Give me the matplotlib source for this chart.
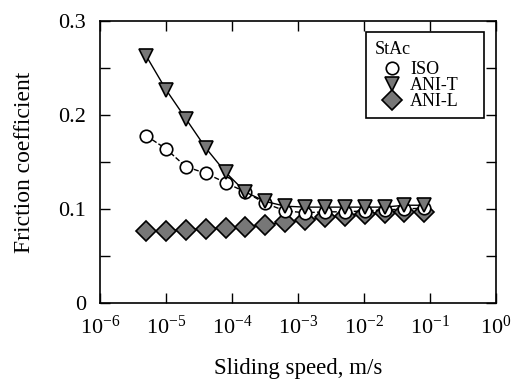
import math
import matplotlib
matplotlib.use("Agg")
import matplotlib.pyplot as plt
from matplotlib.patches import Rectangle
from matplotlib.ticker import FixedLocator, FuncFormatter, NullLocator

plt.rcParams['font.family'] = ['Liberation Serif', 'DejaVu Serif']
plt.rcParams['mathtext.fontset'] = 'custom'
plt.rcParams['mathtext.rm'] = 'Liberation Serif'
plt.rcParams['mathtext.it'] = 'Liberation Serif'

speed = [5e-6, 1e-5, 2e-5, 4e-5, 8e-5, 1.6e-4, 3.2e-4, 6.4e-4, 1.28e-3,
         2.56e-3, 5.12e-3, 1.024e-2, 2.048e-2, 4.096e-2, 8.192e-2]
iso = [0.178, 0.164, 0.145, 0.138, 0.128, 0.118, 0.106, 0.098, 0.096,
       0.097, 0.097, 0.098, 0.099, 0.100, 0.101]
ani_t = [0.263, 0.227, 0.196, 0.165, 0.139, 0.118, 0.108, 0.103, 0.102,
         0.102, 0.102, 0.102, 0.102, 0.104, 0.104]
ani_l = [0.077, 0.077, 0.078, 0.079, 0.080, 0.081, 0.083, 0.086, 0.088,
         0.091, 0.093, 0.095, 0.096, 0.097, 0.097]

gray = '#777777'
fig = plt.figure(figsize=(5.18, 3.82), dpi=100)
ax = fig.add_axes([100/518, 1-303/382, 396/518, 282/382])

ax.plot(speed, ani_l, '-', color='black', lw=1, marker='D', ms=10.5,
        mfc=gray, mec='black', mew=1.2, label='ANI-L', zorder=2)
ax.plot(speed, iso, '--', color='black', lw=1, marker='o', ms=9,
        mfc='white', mec='black', mew=1.2, label='ISO', zorder=3)
ax.plot(speed, ani_t, '-', color='black', lw=1, marker='v', ms=10.5,
        mfc=gray, mec='black', mew=1.2, label='ANI-T', zorder=4)

ax.set_xscale('log')
ax.set_xlim(1e-6, 1)
ax.set_ylim(0, 0.3)
ax.xaxis.set_major_locator(FixedLocator([10.0**e for e in range(-6, 1)]))
ax.xaxis.set_minor_locator(NullLocator())
ax.xaxis.set_major_formatter(FuncFormatter(lambda v, p: r'$10^{%d}$' % round(math.log10(v))))
ax.yaxis.set_major_locator(FixedLocator([0, 0.05, 0.1, 0.15, 0.2, 0.25, 0.3]))
ylabels = {0: '0', 10: '0.1', 20: '0.2', 30: '0.3'}
ax.yaxis.set_major_formatter(FuncFormatter(lambda v, p: ylabels.get(round(v*100), '')))
ax.tick_params(direction='in', length=7, width=1, top=True, right=True,
               labelsize=16)
ax.tick_params(axis='x', pad=9)
ax.tick_params(axis='y', pad=10)
for s in ax.spines.values():
    s.set_linewidth(1.2)

ax.set_xlabel('Sliding speed, m/s', fontsize=16.5, labelpad=14)
ax.set_ylabel('Friction coefficient', fontsize=17, labelpad=17)

# legend frame (pixel box 366..484 x 32..118)
ax.add_patch(Rectangle((266/396, 185/282), 118/396, 86/282, transform=ax.transAxes,
                       fill=True, facecolor='white', edgecolor='black', lw=1.2,
                       zorder=5))
ax.text(275/396, (303-54)/282, 'StAc', transform=ax.transAxes, fontsize=13,
        ha='left', va='baseline', zorder=6)

h, l = ax.get_legend_handles_labels()
order = [1, 2, 0]
leg = ax.legend([h[i] for i in order], [l[i] for i in order],
                loc='upper left', bbox_to_anchor=(283/396, (303-61)/282),
                fontsize=13, frameon=False,
                handlelength=1.0, handletextpad=0.5, labelspacing=-0.05,
                borderpad=0.0, borderaxespad=0.0)
leg.set_zorder(7)
for lh in leg.legend_handles:
    lh.set_linestyle('')

fig.savefig('out.png', dpi=100)
